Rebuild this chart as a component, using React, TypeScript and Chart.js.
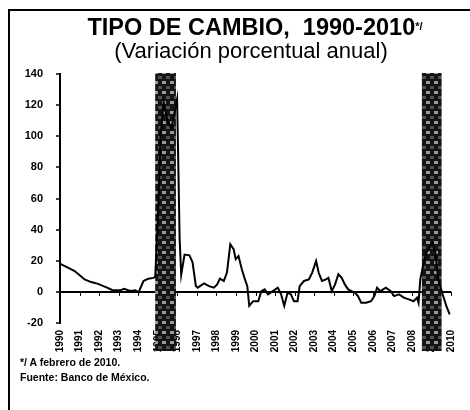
import React, { useEffect, useRef } from "react";
import { Chart, registerables } from "chart.js";

Chart.register(...registerables);

// Fecha (año decimal) y variación porcentual anual del tipo de cambio
const fechas = [
  1990.0, 1990.1, 1990.75, 1991.26, 1991.59, 1991.91, 1992.41, 1992.66, 1993.1, 1993.27,
  1993.6, 1993.85, 1994.02, 1994.27, 1994.52, 1994.77, 1994.87, 1995.0, 1995.15, 1995.3,
  1995.5, 1995.7, 1995.99, 1996.12, 1996.2, 1996.37, 1996.62, 1996.78, 1996.95, 1997.04,
  1997.37, 1997.62, 1997.87, 1998.04, 1998.18, 1998.38, 1998.54, 1998.71, 1998.88, 1998.99,
  1999.13, 1999.3, 1999.46, 1999.58, 1999.68, 1999.88, 2000.14, 2000.3, 2000.47, 2000.64,
  2000.89, 2001.14, 2001.31, 2001.47, 2001.64, 2001.81, 2001.97, 2002.15, 2002.26, 2002.48,
  2002.73, 2002.9, 2003.1, 2003.23, 2003.4, 2003.6, 2003.73, 2003.9, 2004.07, 2004.24,
  2004.41, 2004.57, 2004.74, 2004.91, 2005.08, 2005.24, 2005.41, 2005.66, 2005.91, 2006.08,
  2006.22, 2006.38, 2006.67, 2006.92, 2007.09, 2007.34, 2007.59, 2007.84, 2008.09, 2008.26,
  2008.34, 2008.43, 2008.59, 2008.76, 2009.05, 2009.2, 2009.35, 2009.6, 2009.76, 2009.93,
];
const variacion = [
  18.0, 17.5, 13.4, 8.0, 6.3, 5.3, 2.7, 1.2, 1.0, 2.0,
  0.6, 1.0, -0.3, 7.0, 8.5, 9.0, 9.5, 45, 100, 122,
  110, 105, 124, 34, 11, 24, 23.5, 19, 3.7, 2.7,
  5.5, 3.7, 2.7, 4.8, 8.5, 7, 12.4, 30.6, 27.4, 21,
  23, 14.5, 8, 3.7, -9, -6, -6, 0.5, 1.6, -1.6,
  0.5, 2.7, -1.6, -9, -0.5, -1.6, -6, -6, 3.7, 7,
  8, 12.4, 19.8, 12.4, 7, 8, 9, 0.5, 4.8, 11.3,
  9, 4.8, 1.6, 0.5, -0.5, -2.7, -7, -7, -6, -2.7,
  2.7, 0.5, 2.7, 0.5, -2.7, -1.6, -3.7, -4.8, -6, -3.7,
  -7, 8, 18, 26, 31, 25, 8, -2.7, -9, -14.5,
];

// Periodos de crisis (franjas sombreadas)
const bandasInicio = [1994.87, 2008.51];
const bandasFin = [1995.93, 2009.52];

// Marcas de los ejes
const anioInicio = 1990;
const anioFin = 2010;
const yMin = -20;
const yMax = 140;
const yPaso = 20;

const FONT = "'Liberation Sans', Arial, sans-serif";

function makePattern(ctx: CanvasRenderingContext2D) {
  const c = document.createElement("canvas");
  c.width = 8;
  c.height = 10;
  const p = c.getContext("2d")!;
  p.fillStyle = "#141414";
  p.fillRect(0, 0, 8, 10);
  p.fillStyle = "#9a9a9a";
  p.fillRect(2, 1, 4, 3);
  p.fillStyle = "#505050";
  p.fillRect(0, 6, 2, 3);
  p.fillRect(6, 6, 2, 3);
  return ctx.createPattern(c, "repeat");
}

const bandsPlugin = {
  id: "bandas",
  beforeDatasetsDraw(chart: any) {
    const { ctx, chartArea, scales } = chart;
    const x = scales.x;
    const y = scales.y;
    // year ticks on zero line
    const y0 = y.getPixelForValue(0);
    ctx.save();
    ctx.strokeStyle = "#000";
    ctx.lineWidth = 1;
    for (let a = anioInicio; a <= anioFin; a++) {
      const px = Math.round(x.getPixelForValue(a)) + 0.5;
      ctx.beginPath();
      ctx.moveTo(px, y0);
      ctx.lineTo(px, y0 + 4);
      ctx.stroke();
    }
    const pat = makePattern(ctx);
    for (let i = 0; i < bandasInicio.length; i++) {
      const x1 = x.getPixelForValue(bandasInicio[i]);
      const x2 = x.getPixelForValue(bandasFin[i]);
      ctx.fillStyle = pat || "#222";
      ctx.fillRect(x1, chartArea.top - 1, x2 - x1, chartArea.bottom + 29 - chartArea.top);
    }
    ctx.restore();
  },
};

export default function App() {
  const ref = useRef<HTMLCanvasElement | null>(null);

  useEffect(() => {
    if (!ref.current) return;
    const chart = new Chart(ref.current, {
      type: "line",
      data: {
        datasets: [
          {
            data: fechas.map((f, i) => ({ x: f, y: variacion[i] })),
            borderColor: "#000",
            borderWidth: 2,
            pointRadius: 0,
            tension: 0,
            fill: false,
          },
        ],
      },
      options: {
        animation: false,
        responsive: false,
        parsing: false as any,
        layout: { padding: { left: 0, right: 11.5, top: 74, bottom: 0 } },
        plugins: {
          legend: { display: false },
          tooltip: { enabled: false },
          title: { display: false },
        },
        scales: {
          x: {
            type: "linear",
            min: anioInicio,
            max: anioFin,
            afterFit: (s: any) => {
              s.height = 87;
            },
            border: { display: false },
            grid: { display: false, drawTicks: false },
            ticks: {
              stepSize: 1,
              autoSkip: false,
              minRotation: 90,
              maxRotation: 90,
              padding: 7,
              color: "#000",
              font: { family: FONT, size: 10, weight: "bold" },
              callback: (v: any) => String(v),
            },
          },
          y: {
            min: yMin,
            max: yMax,
            afterFit: (s: any) => {
              s.width = 60;
            },
            border: { display: true, color: "#000", width: 2 },
            grid: {
              color: (c: any) => (c.tick && c.tick.value === 0 ? "#000" : "rgba(0,0,0,0)"),
              lineWidth: 2,
              tickColor: "#000",
              tickLength: 4,
              tickWidth: 1.5,
            },
            ticks: {
              stepSize: yPaso,
              padding: 13,
              color: "#000",
              font: { family: FONT, size: 11, weight: "bold" },
            },
          },
        },
      },
      plugins: [bandsPlugin],
    });
    return () => chart.destroy();
  }, []);

  return (
    <div
      style={{
        position: "absolute",
        left: 0,
        top: 0,
        width: 470,
        height: 410,
        background: "#fff",
        overflow: "hidden",
        fontFamily: FONT,
        color: "#000",
      }}
    >
      <div
        style={{
          position: "absolute",
          left: 8,
          top: 9,
          width: 460,
          height: 402,
          borderLeft: "2px solid #000",
          borderTop: "2px solid #000",
        }}
      />
      <canvas ref={ref} width={470} height={410} style={{ position: "absolute", left: 0, top: 0 }} />
      <div
        style={{
          position: "absolute",
          left: 255,
          top: 14,
          transform: "translateX(-50%)",
          whiteSpace: "nowrap",
          fontSize: 23.5,
          fontWeight: "bold",
          lineHeight: "26px",
        }}
      >
        TIPO DE CAMBIO,&nbsp; 1990-2010
        <span style={{ fontSize: 11, verticalAlign: "top", position: "relative", top: -1 }}>*/</span>
      </div>
      <div
        style={{
          position: "absolute",
          left: 251,
          top: 38,
          transform: "translateX(-50%)",
          whiteSpace: "nowrap",
          fontSize: 22,
          lineHeight: "26px",
        }}
      >
        (Variación porcentual anual)
      </div>
      <div
        style={{
          position: "absolute",
          left: 20,
          top: 355,
          whiteSpace: "nowrap",
          fontSize: 10.5,
          fontWeight: "bold",
          lineHeight: "15px",
        }}
      >
        <div>*/ A febrero de 2010.</div>
        <div>Fuente: Banco de México.</div>
      </div>
    </div>
  );
}
